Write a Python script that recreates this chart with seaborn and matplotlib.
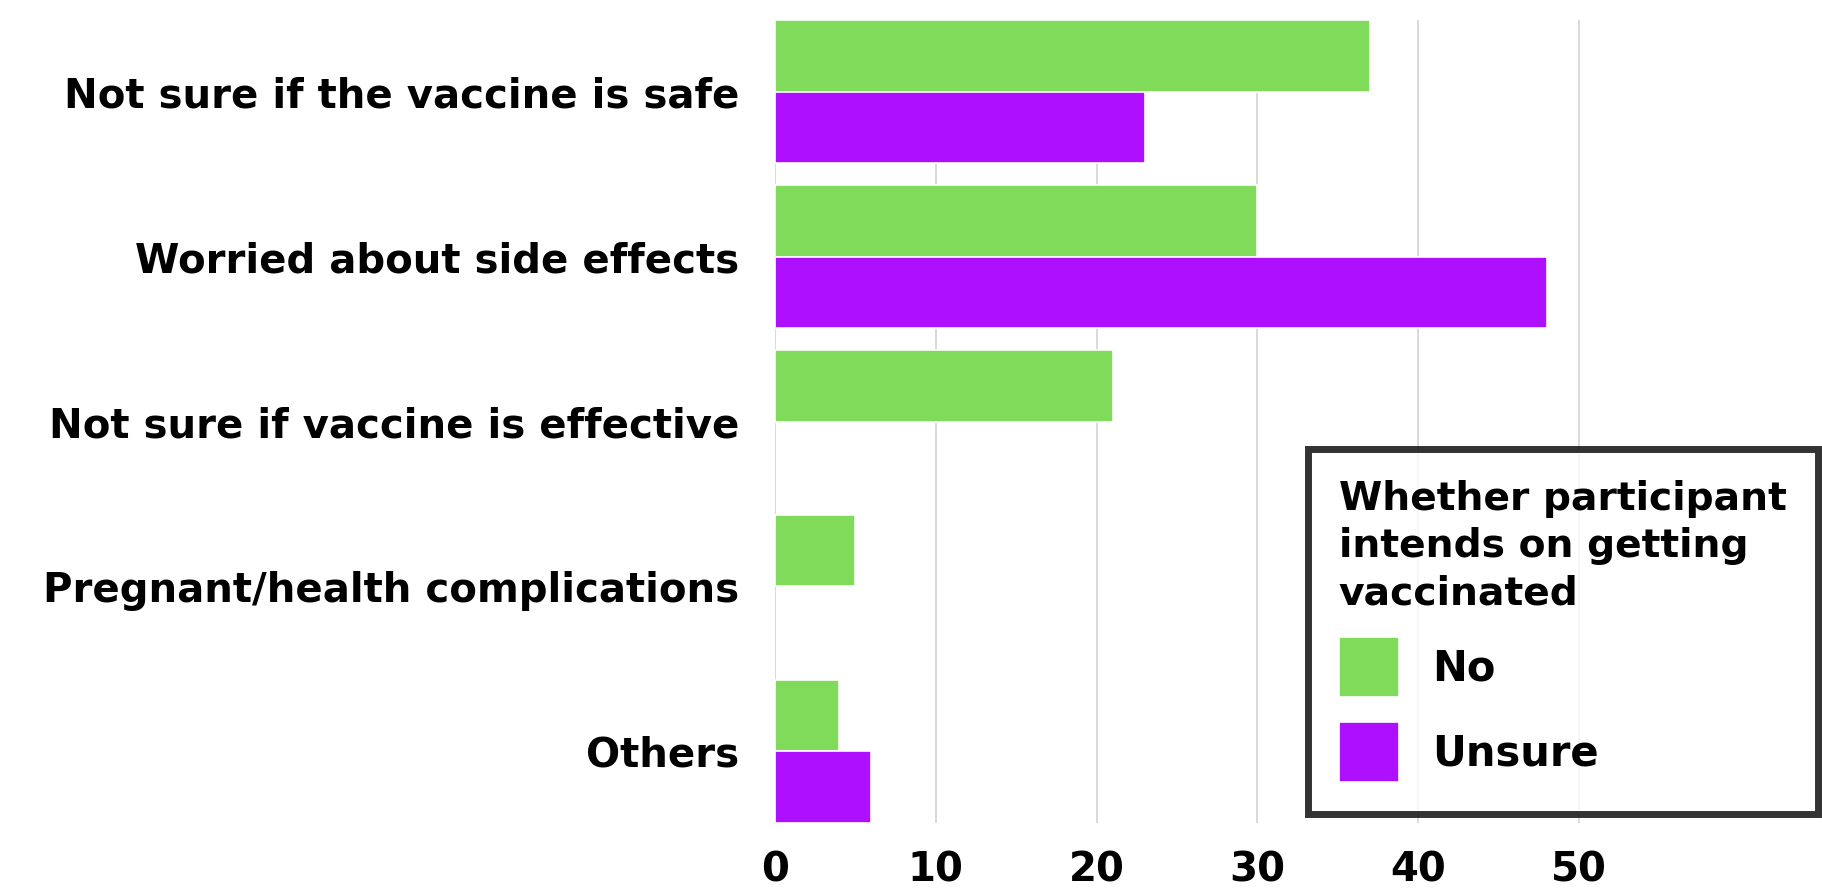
import numpy as np
import pandas as pd
import matplotlib
matplotlib.use("Agg")
import matplotlib.pyplot as plt
import seaborn as sns

categories = ["Not sure if the vaccine is safe", "Worried about side effects",
              "Not sure if vaccine is effective", "Pregnant/health complications", "Others"]
series_names = ["No", "Unsure"]
no_values = [37, 30, 21, 5, 4]
unsure_values = [23, 48, 0, 0, 6]
x_ticks = [0, 10, 20, 30, 40, 50]
legend_title = "Whether participant\nintends on getting\nvaccinated"
colors = {"No": "#80DB5A", "Unsure": "#AE0FFF"}

rows = []
for c, n, u in zip(categories, no_values, unsure_values):
    rows.append({"reason": c, "intent": "No", "count": n})
    rows.append({"reason": c, "intent": "Unsure", "count": u})
df = pd.DataFrame(rows)
df_draw = df[df["count"] > 0]

sns.set_theme(style="white")
plt.rcParams["font.family"] = ["DejaVu Sans"]
plt.rcParams["text.color"] = "black"

W, H = 1822, 892
fig = plt.figure(figsize=(W / 100, H / 100), dpi=100)
left, right, top, bottom = 775, 1820, 20, 823
ax = fig.add_axes([left / W, 1 - bottom / H, (right - left) / W, (bottom - top) / H])

sns.barplot(data=df_draw, y="reason", x="count", hue="intent", order=categories,
            hue_order=series_names, palette=colors, saturation=1, orient="h", width=0.87,
            edgecolor="white", linewidth=1.2, ax=ax, zorder=3)

ax.set_xlim(0, 65)
ax.set_ylim(4.435, -0.435)
ax.set_xticks(x_ticks)
ax.set_xticklabels([str(t) for t in x_ticks])
ax.grid(axis="x", color="#D3D3D3", linewidth=1.2, zorder=0)
ax.grid(axis="y", visible=False)
for s in ax.spines.values():
    s.set_visible(False)
ax.set_xlabel("")
ax.set_ylabel("")
ax.tick_params(axis="x", length=0, pad=20, labelsize=29)
ax.tick_params(axis="y", length=0, pad=26, labelsize=29)
for lab in ax.get_xticklabels() + ax.get_yticklabels():
    lab.set_fontweight("bold")
    lab.set_color("black")

handles, labels = ax.get_legend_handles_labels()
ax.get_legend().remove()
leg = fig.legend(handles, labels, title=legend_title, loc="upper right",
                 bbox_to_anchor=(1818 / W, 1 - 449 / H), borderaxespad=0,
                 frameon=True, fancybox=False, fontsize=30, title_fontsize=28.3,
                 handlelength=1.45, handleheight=1.84, handletextpad=0.8,
                 labelspacing=0.6, borderpad=0.75, alignment="left")
leg.get_frame().set_edgecolor("black")
leg.get_frame().set_linewidth(5)
leg.get_title().set_fontweight("bold")
leg.get_title().set_color("black")
leg.get_title().set_linespacing(1.3)
for t in leg.get_texts():
    t.set_fontweight("bold")
    t.set_color("black")

fig.savefig("out.png", dpi=100)
